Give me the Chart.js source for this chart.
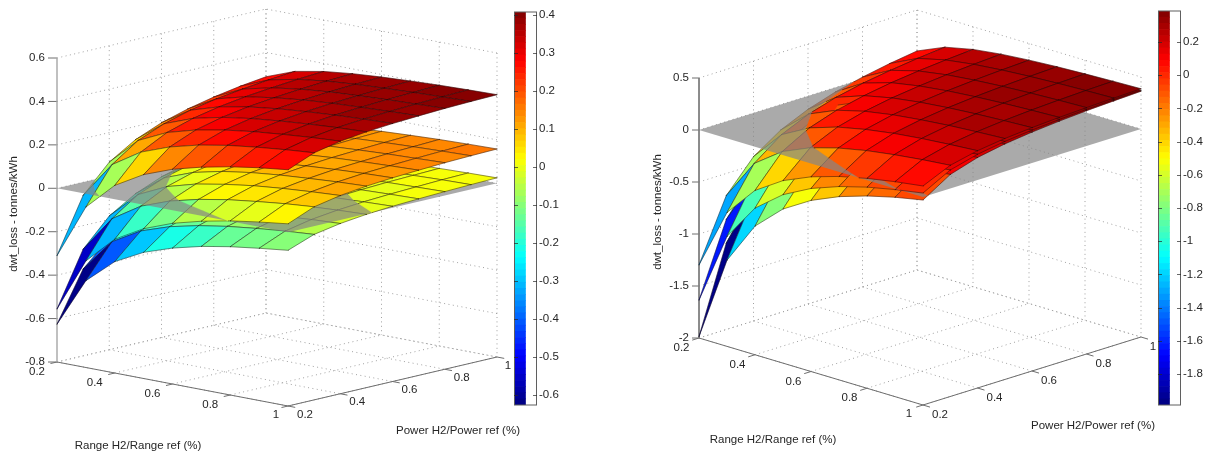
<!DOCTYPE html>
<html>
<head>
<meta charset="utf-8">
<script src="https://cdn.jsdelivr.net/npm/chart.js@4"></script>
<style>
html,body{margin:0;padding:0;background:#fff;width:1207px;height:454px;overflow:hidden}
canvas{position:absolute;filter:blur(0.45px)}
</style>
</head>
<body>
<canvas id="panelL" width="1207" height="454" style="left:0;top:0"></canvas>
<canvas id="panelR" width="1207" height="454" style="left:0;top:0"></canvas>
<canvas id="barL" width="70" height="413" style="left:514px;top:2px"></canvas>
<canvas id="barR" width="49" height="414" style="left:1158px;top:1px"></canvas>
<script>
// ---------- tick labels ----------
const rangeTicks = [0.2, 0.4, 0.6, 0.8, 1];
const powerTicks = [0.2, 0.4, 0.6, 0.8, 1];
const leftZTicks = [-0.8, -0.6, -0.4, -0.2, 0, 0.2, 0.4, 0.6];
const rightZTicks = [-2, -1.5, -1, -0.5, 0, 0.5];
const leftBarTicks = [-0.6, -0.5, -0.4, -0.3, -0.2, -0.1, 0, 0.1, 0.2, 0.3, 0.4];
const rightBarTicks = [-1.8, -1.6, -1.4, -1.2, -1, -0.8, -0.6, -0.4, -0.2, 0, 0.2];
// ---------- grid of the surfaces ----------
const rangeValues = [0.2, 0.3, 0.4, 0.5, 0.6, 0.7, 0.8, 0.9, 1];
const powerValues = [0.2, 0.3, 0.4, 0.5, 0.6, 0.7, 0.8, 0.9, 1];
const planeLevel = 0;
// ---------- dwt_loss, one row per range value, one column per power value ----------
const leftUpper = [
[-0.310,-0.061,0.064,0.139,0.189,0.224,0.251,0.272,0.288],
[-0.061,0.106,0.189,0.238,0.272,0.296,0.313,0.327,0.338],
[0.064,0.189,0.251,0.288,0.313,0.331,0.344,0.355,0.363],
[0.139,0.238,0.288,0.318,0.338,0.352,0.363,0.372,0.378],
[0.189,0.272,0.313,0.338,0.355,0.367,0.376,0.383,0.388],
[0.224,0.296,0.331,0.352,0.367,0.377,0.384,0.390,0.395],
[0.251,0.313,0.344,0.363,0.376,0.384,0.391,0.396,0.401],
[0.272,0.327,0.355,0.372,0.383,0.390,0.396,0.401,0.405],
[0.288,0.338,0.363,0.378,0.388,0.395,0.401,0.405,0.408]];
const leftMiddle = [
[-0.556,-0.309,-0.184,-0.110,-0.060,-0.025,0.002,0.022,0.039],
[-0.309,-0.143,-0.060,-0.011,0.022,0.046,0.063,0.078,0.089],
[-0.184,-0.060,0.002,0.039,0.063,0.082,0.095,0.105,0.113],
[-0.110,-0.011,0.039,0.069,0.089,0.103,0.113,0.122,0.128],
[-0.060,0.022,0.063,0.089,0.105,0.117,0.126,0.133,0.138],
[-0.025,0.046,0.082,0.103,0.117,0.127,0.134,0.140,0.145],
[0.002,0.063,0.095,0.113,0.126,0.134,0.141,0.146,0.151],
[0.022,0.078,0.105,0.122,0.133,0.140,0.146,0.151,0.155],
[0.039,0.089,0.113,0.128,0.138,0.145,0.151,0.155,0.158]];
const leftLower = [
[-0.626,-0.400,-0.287,-0.219,-0.174,-0.141,-0.117,-0.099,-0.083],
[-0.400,-0.249,-0.174,-0.129,-0.099,-0.077,-0.061,-0.048,-0.038],
[-0.287,-0.174,-0.117,-0.083,-0.061,-0.045,-0.033,-0.023,-0.016],
[-0.219,-0.129,-0.083,-0.056,-0.038,-0.025,-0.016,-0.008,-0.002],
[-0.174,-0.099,-0.061,-0.038,-0.023,-0.012,-0.004,0.002,0.007],
[-0.141,-0.077,-0.045,-0.025,-0.012,-0.003,0.004,0.009,0.013],
[-0.117,-0.061,-0.033,-0.016,-0.004,0.004,0.010,0.014,0.018],
[-0.099,-0.048,-0.023,-0.008,0.002,0.009,0.014,0.019,0.022],
[-0.083,-0.038,-0.016,-0.002,0.007,0.013,0.018,0.022,0.025]];
const rightUpper = [
[-1.298,-0.713,-0.420,-0.245,-0.128,-0.044,0.018,0.067,0.106],
[-0.713,-0.323,-0.128,-0.011,0.067,0.123,0.164,0.197,0.223],
[-0.420,-0.128,0.018,0.106,0.164,0.207,0.238,0.262,0.282],
[-0.245,-0.011,0.106,0.176,0.223,0.256,0.282,0.301,0.317],
[-0.128,0.067,0.164,0.223,0.262,0.290,0.311,0.327,0.340],
[-0.044,0.123,0.207,0.256,0.290,0.314,0.332,0.346,0.357],
[0.018,0.164,0.238,0.282,0.311,0.332,0.348,0.360,0.369],
[0.067,0.197,0.262,0.301,0.327,0.346,0.360,0.371,0.379],
[0.106,0.223,0.282,0.317,0.340,0.357,0.369,0.379,0.387]];
const rightMiddle = [
[-1.636,-0.943,-0.590,-0.380,-0.240,-0.141,-0.066,-0.009,0.038],
[-0.943,-0.473,-0.240,-0.102,-0.009,0.058,0.108,0.147,0.178],
[-0.590,-0.240,-0.066,0.038,0.108,0.158,0.195,0.224,0.247],
[-0.380,-0.102,0.038,0.122,0.178,0.217,0.247,0.271,0.289],
[-0.240,-0.009,0.108,0.178,0.224,0.257,0.283,0.302,0.317],
[-0.141,0.058,0.158,0.217,0.257,0.286,0.307,0.324,0.337],
[-0.066,0.108,0.195,0.247,0.283,0.307,0.326,0.340,0.352],
[-0.009,0.147,0.224,0.271,0.302,0.324,0.340,0.354,0.364],
[0.038,0.178,0.247,0.289,0.317,0.337,0.352,0.364,0.373]];
const rightLower = [
[-1.987,-1.171,-0.763,-0.518,-0.355,-0.238,-0.151,-0.083,-0.029],
[-1.171,-0.627,-0.355,-0.192,-0.083,-0.005,0.053,0.099,0.135],
[-0.763,-0.355,-0.151,-0.029,0.053,0.111,0.155,0.189,0.216],
[-0.518,-0.192,-0.029,0.069,0.135,0.181,0.216,0.244,0.265],
[-0.355,-0.083,0.053,0.135,0.189,0.228,0.257,0.280,0.297],
[-0.238,-0.005,0.111,0.181,0.228,0.261,0.286,0.305,0.321],
[-0.151,0.053,0.155,0.216,0.257,0.286,0.308,0.325,0.339],
[-0.083,0.099,0.189,0.244,0.280,0.305,0.325,0.340,0.352],
[-0.029,0.135,0.216,0.265,0.297,0.321,0.339,0.352,0.363]];
const rangeTitle = "Range H2/Range ref (%)";
const powerTitle = "Power H2/Power ref (%)";
const zTitle = "dwt_loss - tonnes/kWh";

// ---------- helpers ----------
const FONT = '11.5px "Liberation Sans", Arial, sans-serif';
const TEXT = '#262626';
const LEVELS = 64;
function jet(t){
  const c = v => Math.round(255*Math.max(0,Math.min(1,v)));
  return `rgb(${c(1.5-Math.abs(4*t-3))},${c(1.5-Math.abs(4*t-2))},${c(1.5-Math.abs(4*t-1))})`;
}
function colorOf(z,lo,hi){
  const k = Math.min(LEVELS-1,Math.floor((z-lo)/(hi-lo)*LEVELS));
  return jet((k+0.5)/LEVELS);
}
const base = {
  type:'scatter',
  showLine:true, pointRadius:0, pointHoverRadius:0, tension:0
};
function panelChart(id,cfg){
  const {origin,rVec,pVec,zPx,zMin,zMax,surfaces,zTicks,cMin,cMax} = cfg;
  const H = zPx*(zMax-zMin);
  const norm = (r,p,z)=>[(r-0.2)/0.8,(p-0.2)/0.8,(z-zMin)/(zMax-zMin)];
  const project = (r,p,z)=>{
    const [u,v,w]=norm(r,p,z);
    return {x:origin[0]+rVec[0]*u+pVec[0]*v, y:origin[1]+rVec[1]*u+pVec[1]*v-H*w};
  };
  const dir = [pVec[0]*H,-rVec[0]*H,pVec[0]*rVec[1]-rVec[0]*pVec[1]];
  const depth = pts=>{
    let s=0; pts.forEach(q=>{const n=norm(q[0],q[1],q[2]); s+=dir[0]*n[0]+dir[1]*n[1]+dir[2]*n[2];});
    return s/pts.length;
  };
  const gap = {x:NaN,y:NaN};
  const segs = list=>{ const out=[]; list.forEach(s=>{s.forEach(q=>out.push(q)); out.push(gap);}); return out; };
  const datasets = [];
  const rMin=rangeValues[0], rMax=rangeValues[rangeValues.length-1];
  const pMin=powerValues[0], pMax=powerValues[powerValues.length-1];
  // walls and floor
  const grid=[];
  powerTicks.forEach(p=>{ if(p>pMin&&p<pMax+1) grid.push([project(rMin,p,zMax),project(rMin,p,zMin)]); });
  rangeTicks.forEach(r=>{ grid.push([project(r,pMax,zMax),project(r,pMax,zMin)]); });
  zTicks.forEach(z=>{ grid.push([project(rMin,pMin,z),project(rMin,pMax,z),project(rMax,pMax,z)]); });
  rangeTicks.forEach(r=>{ grid.push([project(r,pMin,zMin),project(r,pMax,zMin)]); });
  powerTicks.forEach(p=>{ grid.push([project(rMin,p,zMin),project(rMax,p,zMin)]); });
  datasets.push({...base,data:segs(grid),borderColor:'#a0a0a0',borderWidth:1,borderDash:[1,3.4],fill:false});
  // axes
  const zAxis=[[project(rMin,pMin,zMax),project(rMin,pMin,zMin)]];
  const axes=[[project(rMin,pMin,zMin),project(rMax,pMin,zMin),project(rMax,pMax,zMin)]];
  zTicks.forEach(z=>{const a=project(rMin,pMin,z); axes.push([a,{x:a.x-cfg.tickLen,y:a.y}]);});
  rangeTicks.forEach(r=>axes.push([project(r,pMin,zMin),project(r,pMin-0.025,zMin)]));
  powerTicks.forEach(p=>axes.push([project(rMax,p,zMin),project(rMax+0.025,p,zMin)]));
  datasets.push({...base,data:segs(axes),borderColor:'#6e6e6e',borderWidth:1,fill:false});
  datasets.push({...base,data:segs(zAxis),borderColor:cfg.zAxisColor,borderWidth:cfg.zAxisWidth,fill:false});
  // surface pieces, split at the grey plane
  const below=[],above=[];
  const clip=(poly,keepAbove)=>{
    const inside=q=>keepAbove? q[2]>=planeLevel : q[2]<=planeLevel;
    const out=[];
    poly.forEach((a,k)=>{
      const b=poly[(k+1)%poly.length];
      if(inside(a)) out.push(a);
      if(inside(a)!==inside(b)){
        const t=(planeLevel-a[2])/(b[2]-a[2]);
        out.push([a[0]+t*(b[0]-a[0]),a[1]+t*(b[1]-a[1]),planeLevel,true]);
      }
    });
    return out;
  };
  surfaces.forEach(S=>{
    for(let i=0;i<rangeValues.length-1;i++) for(let j=0;j<powerValues.length-1;j++){
      const poly=[[rangeValues[i],powerValues[j],S[i][j]],[rangeValues[i+1],powerValues[j],S[i+1][j]],
                  [rangeValues[i+1],powerValues[j+1],S[i+1][j+1]],[rangeValues[i],powerValues[j+1],S[i][j+1]]];
      const color=colorOf(S[i][j],cMin,cMax);
      [[false,below],[true,above]].forEach(([up,list])=>{
        const piece=clip(poly,up);
        if(piece.length>=3) list.push({piece,color,d:depth(piece)});
      });
    }
  });
  const pushPiece=({piece,color})=>{
    const pts=piece.map(q=>project(q[0],q[1],q[2]));
    datasets.push({...base,data:[...pts,pts[0]],fill:'shape',backgroundColor:color,borderColor:color,borderWidth:0.3});
    const edge=[];
    piece.forEach((a,k)=>{
      const b=piece[(k+1)%piece.length];
      if(a[3]&&b[3]) return;
      edge.push([project(a[0],a[1],a[2]),project(b[0],b[1],b[2])]);
    });
    datasets.push({...base,data:segs(edge),borderColor:'rgba(20,10,10,0.7)',borderWidth:0.65,fill:false,borderCapStyle:'round'});
  };
  below.sort((a,b)=>a.d-b.d).forEach(pushPiece);
  const planePts=[project(rMin,pMin,planeLevel),project(rMax,pMin,planeLevel),project(rMax,pMax,planeLevel),project(rMin,pMax,planeLevel)];
  datasets.push({...base,data:[...planePts,planePts[0]],fill:'shape',backgroundColor:'rgba(134,134,134,0.7)',borderWidth:0,borderColor:'rgba(0,0,0,0)'});
  above.sort((a,b)=>a.d-b.d).forEach(pushPiece);
  datasets.forEach((d,k)=>{d.order=datasets.length-k;});

  const labels={
    id:'panelLabels',
    afterDraw(chart){
      const c=chart.ctx, X=chart.scales.x, Y=chart.scales.y;
      const put=(s,x,y,align)=>{c.textAlign=align||'center';c.textBaseline='middle';c.fillText(s,X.getPixelForValue(x),Y.getPixelForValue(y));};
      c.save(); c.font=FONT; c.fillStyle=TEXT;
      zTicks.forEach(z=>{const a=project(rMin,pMin,z); put(String(z),a.x-cfg.zLabelGap,a.y,'right');});
      rangeTicks.forEach(r=>{const a=project(r,pMin,zMin); const o=r===1?cfg.rLabelEnd:cfg.rLabel; put(String(r),a.x+o[0],a.y+o[1]);});
      powerTicks.forEach(p=>{const a=project(rMax,p,zMin); const o=p===1?cfg.pLabelEnd:cfg.pLabel; put(String(p),a.x+o[0],a.y+o[1]);});
      put(rangeTitle,cfg.rTitle[0],cfg.rTitle[1]);
      put(powerTitle,cfg.pTitle[0],cfg.pTitle[1]);
      c.translate(X.getPixelForValue(cfg.zTitle[0]),Y.getPixelForValue(cfg.zTitle[1]));
      c.rotate(-Math.PI/2); c.textAlign='center'; c.textBaseline='middle';
      c.fillText(zTitle,0,0);
      c.restore();
    }
  };
  new Chart(document.getElementById(id),{
    type:'scatter',
    data:{datasets},
    plugins:[labels],
    options:{
      responsive:false,animation:false,events:[],devicePixelRatio:1,
      layout:{padding:0},
      plugins:{legend:{display:false},tooltip:{enabled:false},title:{display:false}},
      scales:{
        x:{type:'linear',display:false,min:0,max:1207,bounds:'data'},
        y:{type:'linear',display:false,min:0,max:454,reverse:true,bounds:'data'}
      }
    }
  });
}
function barChart(id,lo,hi,ticks,pad){
  const datasets=[];
  for(let k=0;k<LEVELS;k++){
    datasets.push({data:[[lo+(hi-lo)*k/LEVELS,lo+(hi-lo)*(k+1)/LEVELS]],backgroundColor:jet((k+0.5)/LEVELS),borderWidth:0,barPercentage:1,categoryPercentage:1});
  }
  const frame={
    id:'barFrame',
    afterDraw(chart){
      const c=chart.ctx,a=chart.chartArea,Y=chart.scales.y;
      c.save();c.strokeStyle='#5f5f5f';c.lineWidth=1;
      c.strokeRect(a.left+0.5,a.top,a.right-a.left-1,a.bottom-a.top);
      c.strokeStyle='rgba(40,40,40,0.7)';
      ticks.forEach(v=>{
        const y=Math.round(Y.getPixelForValue(v))+0.5;
        c.beginPath();c.moveTo(a.left,y);c.lineTo(a.left+4,y);c.moveTo(a.right-4,y);c.lineTo(a.right,y);c.stroke();
      });
      c.restore();
    }
  };
  new Chart(document.getElementById(id),{
    type:'bar',
    data:{labels:[''],datasets},
    plugins:[frame],
    options:{
      responsive:false,animation:false,events:[],devicePixelRatio:1,
      layout:{padding:pad},
      plugins:{legend:{display:false},tooltip:{enabled:false}},
      scales:{
        x:{display:false,stacked:true,offset:false},
        y:{position:'right',min:lo,max:hi,stacked:false,bounds:'data',
           afterBuildTicks:s=>{s.ticks=ticks.map(v=>({value:v}));},
           afterFit:s=>{s.width=pad.axis;},
           grid:{display:false,drawTicks:false},border:{display:false},
           ticks:{autoSkip:false,padding:2,color:TEXT,crossAlign:'near',align:'center',font:{family:'"Liberation Sans", Arial, sans-serif',size:11.5},callback:v=>String(v)}}
      }
    }
  });
}
panelChart('panelL',{
  origin:[57,362],rVec:[231,44],pVec:[209,-49],zPx:217.14,zMin:-0.8,zMax:0.6,
  surfaces:[leftUpper,leftMiddle,leftLower],zTicks:leftZTicks,cMin:-0.626,cMax:0.408,
  zAxisColor:'#a6a6a6',zAxisWidth:1.4,
  tickLen:9,zLabelGap:12,rLabel:[-20,9.5],rLabelEnd:[-12,8.5],pLabel:[17,8.5],pLabelEnd:[11,9],
  rTitle:[138,446],pTitle:[458,431],zTitle:[14,214]
});
panelChart('panelR',{
  origin:[699,338],rVec:[224,67],pVec:[218,-68],zPx:104,zMin:-2,zMax:0.5,
  surfaces:[rightUpper,rightMiddle,rightLower],zTicks:rightZTicks,cMin:-1.987,cMax:0.387,
  zAxisColor:'#7c7c7c',zAxisWidth:1,
  tickLen:7,zLabelGap:10,rLabel:[-17.5,10],rLabelEnd:[-14,9],pLabel:[17,9.5],pLabelEnd:[12,10],
  rTitle:[773,440],pTitle:[1093,426],zTitle:[658,212]
});
barChart('barL',-0.626,0.408,leftBarTicks,{left:0,right:0,top:10,bottom:10,axis:47});
barChart('barR',-1.987,0.387,rightBarTicks,{left:0,right:0,top:10,bottom:10,axis:26});
</script>
</body>
</html>
